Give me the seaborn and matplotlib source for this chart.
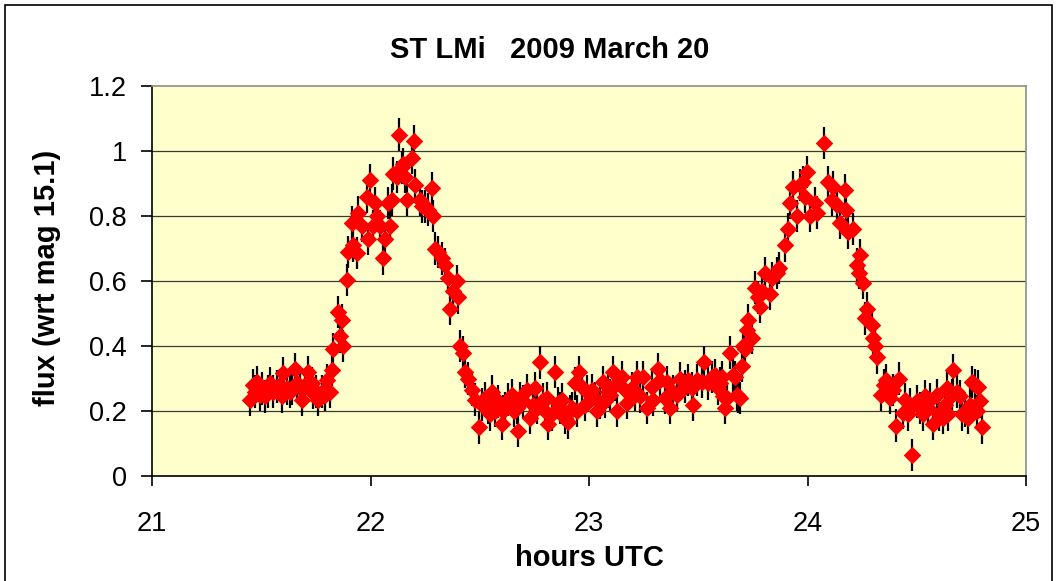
import matplotlib
matplotlib.use("Agg")
import matplotlib.pyplot as plt
import matplotlib.patches as patches
import pandas as pd
import seaborn as sns

hours = [
    21.449, 21.462, 21.471, 21.481, 21.494, 21.503, 21.517, 21.531, 21.540, 21.554,
    21.572, 21.586, 21.595, 21.600, 21.618, 21.632, 21.641, 21.654, 21.664, 21.677,
    21.686, 21.700, 21.714, 21.732, 21.737, 21.751, 21.760, 21.778, 21.792, 21.801,
    21.815, 21.824, 21.828, 21.851, 21.860, 21.870, 21.874, 21.892, 21.897, 21.915,
    21.920, 21.938, 21.943, 21.961, 21.984, 21.989, 21.998, 22.011, 22.021, 22.030,
    22.043, 22.057, 22.066, 22.080, 22.089, 22.098, 22.103, 22.121, 22.130, 22.144,
    22.149, 22.158, 22.167, 22.190, 22.199, 22.204, 22.227, 22.236, 22.249, 22.263,
    22.281, 22.286, 22.295, 22.309, 22.327, 22.341, 22.355, 22.364, 22.378, 22.396,
    22.400, 22.410, 22.423, 22.432, 22.446, 22.465, 22.478, 22.497, 22.510, 22.524,
    22.538, 22.547, 22.556, 22.570, 22.584, 22.602, 22.606, 22.616, 22.629, 22.648,
    22.657, 22.670, 22.675, 22.684, 22.698, 22.716, 22.730, 22.744, 22.753, 22.762,
    22.776, 22.789, 22.799, 22.808, 22.812, 22.831, 22.844, 22.858, 22.867, 22.876,
    22.890, 22.904, 22.913, 22.922, 22.936, 22.945, 22.954, 22.968, 22.982, 22.991,
    23.014, 23.027, 23.037, 23.050, 23.064, 23.073, 23.087, 23.096, 23.110, 23.119,
    23.128, 23.151, 23.165, 23.174, 23.197, 23.211, 23.220, 23.233, 23.247, 23.265,
    23.288, 23.293, 23.316, 23.325, 23.348, 23.357, 23.371, 23.384, 23.403, 23.416,
    23.439, 23.453, 23.471, 23.476, 23.494, 23.517, 23.526, 23.545, 23.563, 23.577,
    23.590, 23.600, 23.609, 23.613, 23.622, 23.632, 23.645, 23.659, 23.668, 23.677,
    23.682, 23.691, 23.700, 23.705, 23.714, 23.723, 23.728, 23.746, 23.760, 23.773,
    23.783, 23.792, 23.805, 23.828, 23.838, 23.860, 23.870, 23.897, 23.911, 23.920,
    23.934, 23.952, 23.966, 23.979, 23.989, 23.998, 24.011, 24.034, 24.043, 24.076,
    24.094, 24.112, 24.117, 24.135, 24.149, 24.172, 24.176, 24.185, 24.208, 24.227,
    24.236, 24.240, 24.254, 24.263, 24.272, 24.295, 24.300, 24.309, 24.318, 24.336,
    24.350, 24.359, 24.378, 24.391, 24.405, 24.419, 24.437, 24.446, 24.460, 24.469,
    24.478, 24.501, 24.515, 24.529, 24.538, 24.551, 24.561, 24.574, 24.593, 24.602,
    24.620, 24.629, 24.638, 24.643, 24.661, 24.666, 24.684, 24.698, 24.707, 24.721,
    24.735, 24.744, 24.753, 24.767, 24.776, 24.780, 24.789, 24.799,
]
flux = [
    0.234, 0.28, 0.26, 0.29, 0.25, 0.27, 0.245, 0.26, 0.285, 0.26,
    0.275, 0.28, 0.245, 0.317, 0.27, 0.26, 0.27, 0.33, 0.285, 0.27,
    0.234, 0.28, 0.32, 0.285, 0.255, 0.26, 0.234, 0.26, 0.25, 0.295,
    0.26, 0.326, 0.39, 0.505, 0.43, 0.48, 0.40, 0.603, 0.69, 0.78,
    0.71, 0.686, 0.81, 0.77, 0.86, 0.73, 0.91, 0.77, 0.84, 0.80,
    0.77, 0.67, 0.73, 0.84, 0.77, 0.85, 0.93, 0.92, 1.05, 0.95,
    0.96, 0.92, 0.85, 0.98, 1.03, 0.895, 0.85, 0.83, 0.83, 0.82,
    0.885, 0.80, 0.70, 0.69, 0.67, 0.65, 0.61, 0.515, 0.57, 0.60,
    0.55, 0.40, 0.38, 0.32, 0.30, 0.265, 0.235, 0.15, 0.22, 0.24,
    0.21, 0.19, 0.26, 0.20, 0.23, 0.16, 0.20, 0.21, 0.235, 0.25,
    0.20, 0.21, 0.14, 0.24, 0.23, 0.265, 0.18, 0.22, 0.27, 0.21,
    0.35, 0.235, 0.20, 0.24, 0.16, 0.19, 0.32, 0.225, 0.21, 0.235,
    0.18, 0.165, 0.20, 0.21, 0.285, 0.20, 0.32, 0.275, 0.22, 0.26,
    0.265, 0.24, 0.20, 0.225, 0.29, 0.23, 0.26, 0.25, 0.32, 0.28,
    0.20, 0.305, 0.265, 0.225, 0.27, 0.25, 0.305, 0.245, 0.305, 0.21,
    0.275, 0.235, 0.33, 0.295, 0.24, 0.29, 0.21, 0.26, 0.25, 0.30,
    0.275, 0.295, 0.27, 0.22, 0.295, 0.29, 0.35, 0.285, 0.305, 0.31,
    0.27, 0.285, 0.305, 0.245, 0.21, 0.24, 0.38, 0.31, 0.305, 0.25,
    0.245, 0.24, 0.34, 0.40, 0.39, 0.45, 0.48, 0.425, 0.58, 0.55,
    0.52, 0.57, 0.625, 0.56, 0.61, 0.625, 0.64, 0.71, 0.76, 0.84,
    0.89, 0.80, 0.895, 0.905, 0.86, 0.935, 0.80, 0.84, 0.81, 1.025,
    0.905, 0.85, 0.89, 0.835, 0.78, 0.88, 0.82, 0.75, 0.76, 0.65,
    0.625, 0.68, 0.595, 0.485, 0.515, 0.465, 0.425, 0.40, 0.365, 0.25,
    0.28, 0.295, 0.24, 0.265, 0.155, 0.30, 0.195, 0.235, 0.19, 0.22,
    0.065, 0.23, 0.21, 0.19, 0.245, 0.21, 0.235, 0.16, 0.25, 0.19,
    0.18, 0.22, 0.27, 0.19, 0.25, 0.325, 0.26, 0.245, 0.19, 0.20,
    0.18, 0.22, 0.29, 0.28, 0.20, 0.275, 0.23, 0.15,
]
flux_err = 0.05

x_ticks = [21, 22, 23, 24, 25]
y_ticks = [0, 0.2, 0.4, 0.6, 0.8, 1, 1.2]
y_tick_labels = ["0", "0.2", "0.4", "0.6", "0.8", "1", "1.2"]

df = pd.DataFrame({"hours": hours, "flux": flux})

sns.set_style("white")
plt.rcParams["font.family"] = ["Liberation Sans", "DejaVu Sans"]
plt.rcParams["text.color"] = "black"
plt.rcParams["xtick.color"] = "black"
plt.rcParams["ytick.color"] = "black"

fig = plt.figure(figsize=(10.58, 5.81), dpi=100)
ax = fig.add_axes([152 / 1058, 1 - 476 / 581, 874 / 1058, 390 / 581])
ax.set_facecolor("#FFFFCC")

# error bars first, diamonds on top
ax.errorbar(df["hours"], df["flux"], yerr=flux_err, fmt="none",
            ecolor="black", elinewidth=1.6, capsize=0, zorder=2)
sns.scatterplot(data=df, x="hours", y="flux", ax=ax, marker="D", s=80,
                color="red", edgecolor="red", linewidth=0, zorder=3)

ax.set_xlim(21, 25)
ax.set_ylim(0, 1.2)
ax.set_xticks(x_ticks)
ax.set_yticks(y_ticks)
ax.set_yticklabels(y_tick_labels)
for yv in y_ticks[1:-1]:
    ax.axhline(yv, color="#3a3a3a", lw=0.9, zorder=1)

for side in ["top", "right"]:
    ax.spines[side].set_color("#8c8c8c")
    ax.spines[side].set_linewidth(1.2)
for side in ["left", "bottom"]:
    ax.spines[side].set_color("black")
    ax.spines[side].set_linewidth(1.2)

ax.tick_params(axis="x", direction="out", length=7, width=1.2, pad=18,
               labelsize=19.5, bottom=True)
ax.tick_params(axis="y", direction="out", length=8, width=1.2, pad=10,
               labelsize=19.5, left=True)
ax.set_xlabel("")
ax.set_ylabel("")

fig.text(550 / 1058, 1 - 50 / 581, "ST LMi   2009 March 20", ha="center",
         va="center", fontsize=21, fontweight="bold")
fig.text(589 / 1058, 1 - 558 / 581, "hours UTC", ha="center", va="center",
         fontsize=21, fontweight="bold")
fig.text(47 / 1058, 1 - 278 / 581, "flux (wrt mag 15.1)", ha="center",
         va="center", rotation=90, fontsize=21, fontweight="bold")

# outer chart frame
fig.patches.append(patches.Rectangle((5 / 1058, -0.02), 1047 / 1058, 1.02 - 5 / 581,
                                     transform=fig.transFigure, fill=False,
                                     edgecolor="black", lw=1.2))

fig.savefig("out.png", dpi=100)
